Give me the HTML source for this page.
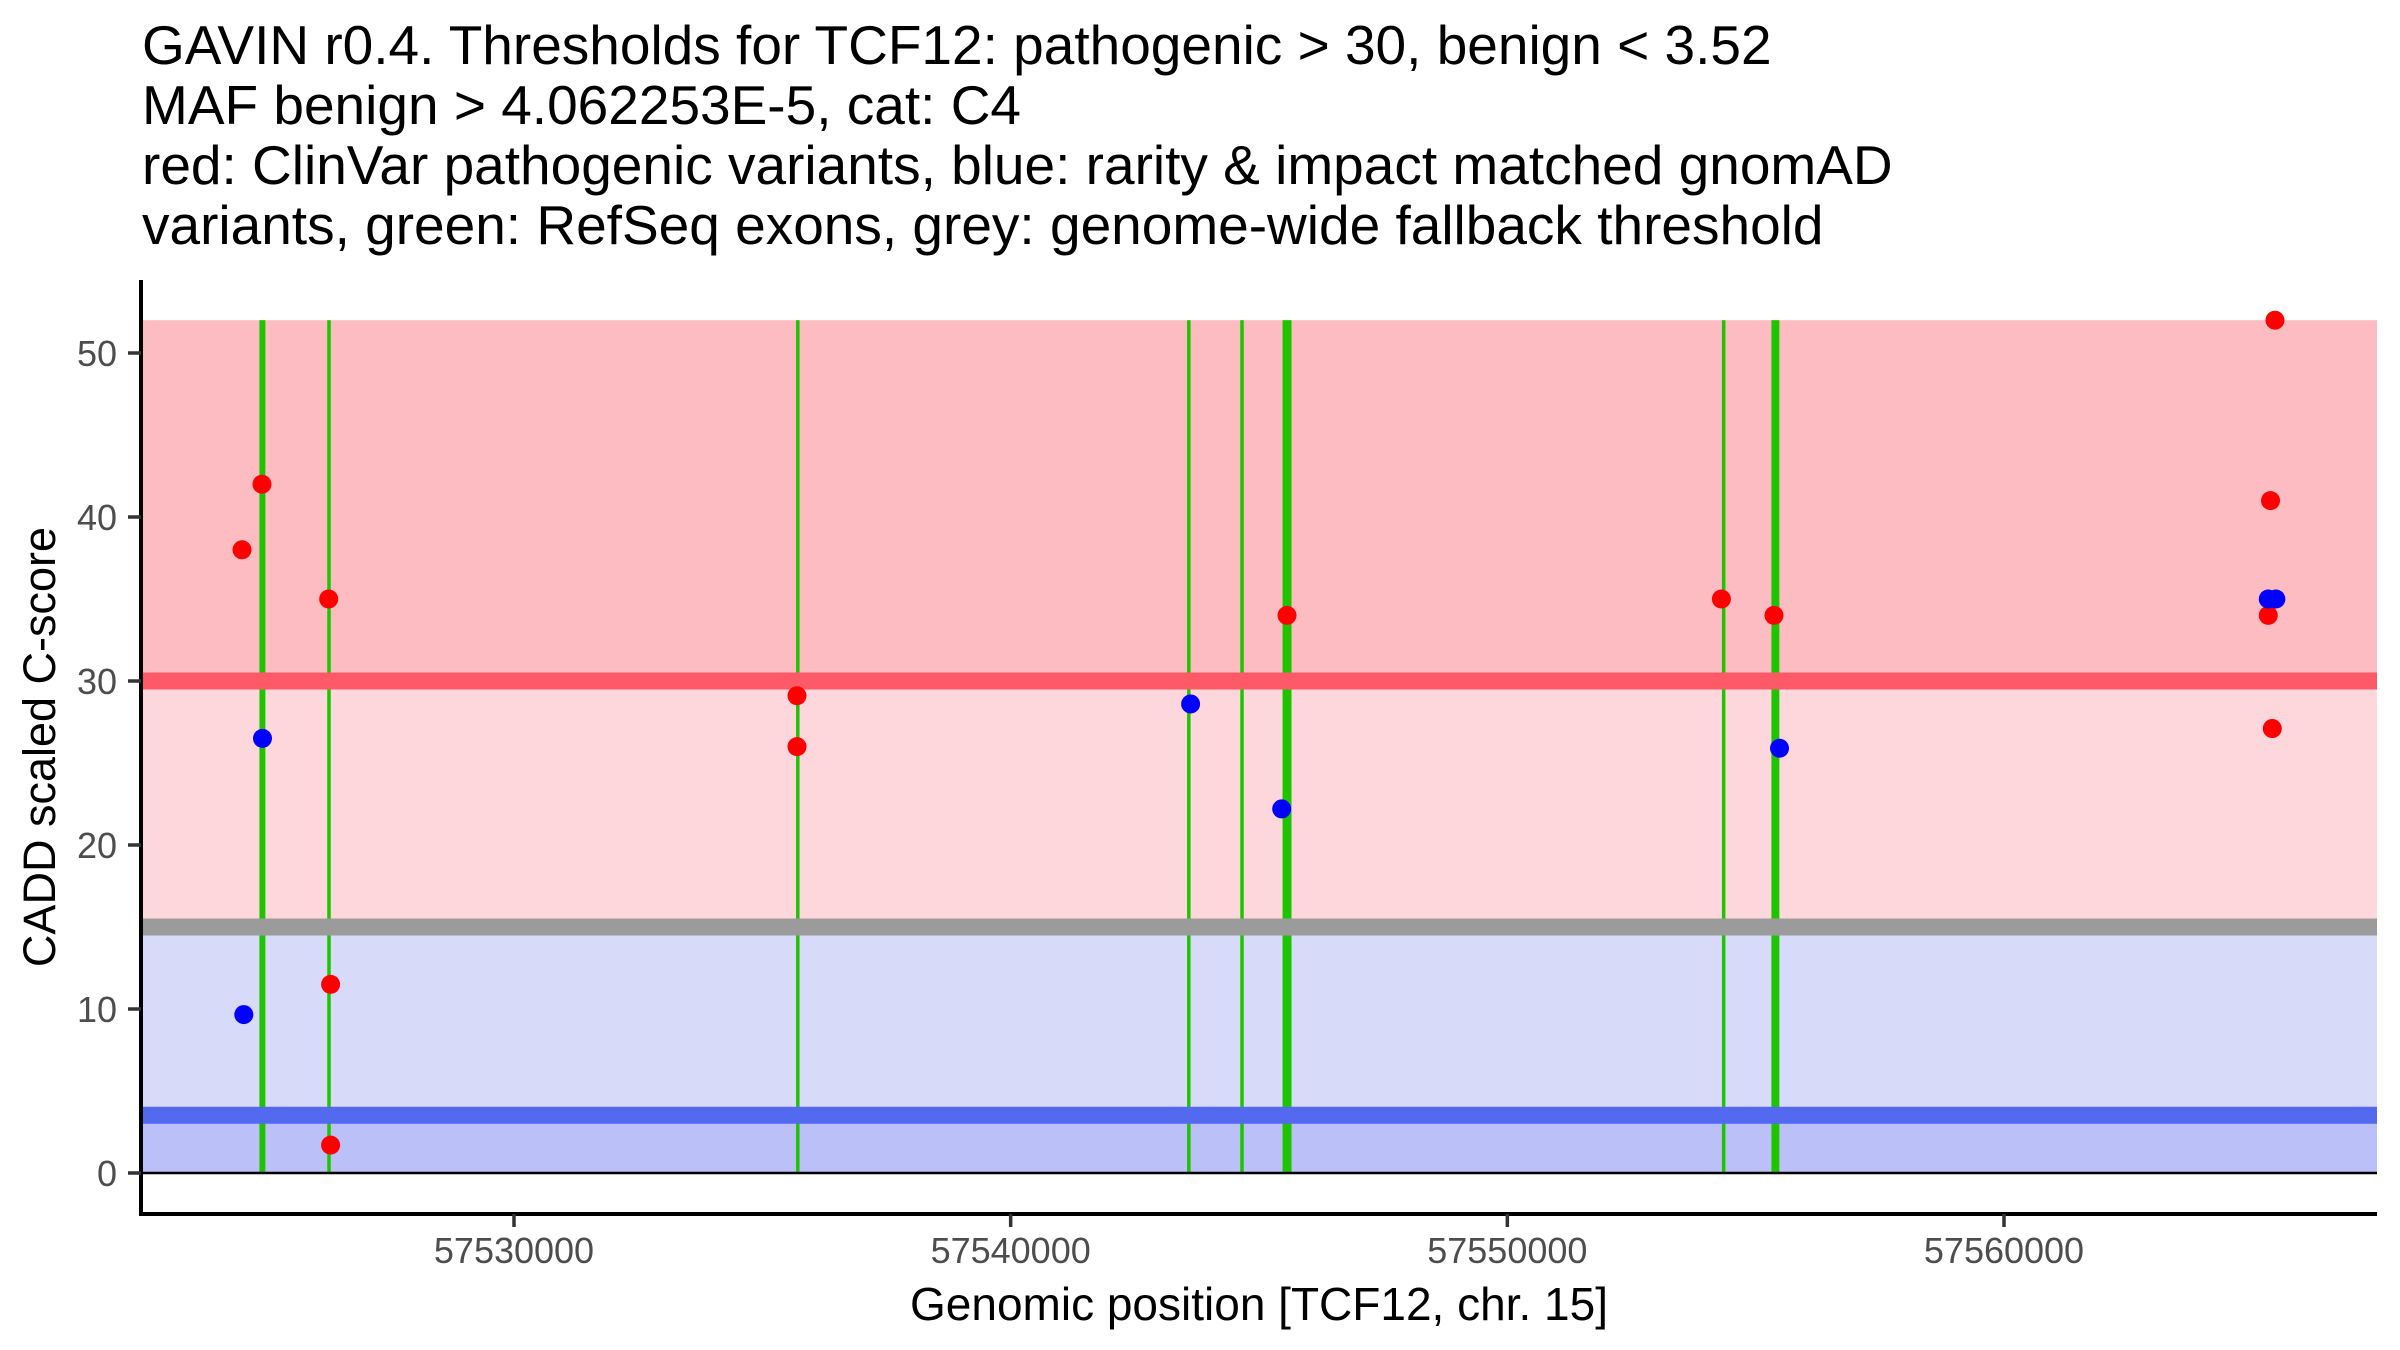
<!DOCTYPE html>
<html><head><meta charset="utf-8"><style>
html,body{margin:0;padding:0;background:#fff;width:2400px;height:1350px;overflow:hidden}
svg{display:block}
text{font-family:"Liberation Sans",Arial,sans-serif}
</style></head><body>
<svg id="chart" width="2400" height="1350" viewBox="0 0 2400 1350" xmlns="http://www.w3.org/2000/svg">
<g font-size="55" fill="#000">
<text x="142" y="64">GAVIN r0.4. Thresholds for TCF12: pathogenic &gt; 30, benign &lt; 3.52</text>
<text x="142" y="124">MAF benign &gt; 4.062253E-5, cat: C4</text>
<text x="142" y="184">red: ClinVar pathogenic variants, blue: rarity &amp; impact matched gnomAD</text>
<text x="142" y="244">variants, green: RefSeq exons, grey: genome-wide fallback threshold</text>
</g>
<g id="bands"></g>
<g id="exons"></g>
<g id="thr"></g>
<g id="pts"></g>
<g id="axes"></g>
<text x="1259" y="1320" text-anchor="middle" font-size="46">Genomic position [TCF12, chr. 15]</text>
<text transform="translate(55,747) rotate(-90)" text-anchor="middle" font-size="45">CADD scaled C-score</text>
</svg>
<script>
const pathogenicThreshold = 30;
const benignThreshold = 3.52;
const fallbackThreshold = 15;
const yMaxBand = 52;
const yTicks = [0, 10, 20, 30, 40, 50];
const xTicks = [57530000, 57540000, 57550000, 57560000];
const exonStarts = [57524874, 57526275, 57535714, 57543587, 57544658, 57545474, 57554356, 57555317];
const exonEnds   = [57524994, 57526275, 57535714, 57543587, 57544658, 57545655, 57554356, 57555477];
const redPos   = [57524926, 57524524, 57526269, 57526307, 57526307, 57535698, 57535698, 57545564, 57554310, 57555369, 57565456, 57565366, 57565321, 57565402];
const redScore = [42.0, 38.0, 35.0, 11.5, 1.7, 29.1, 26.0, 34.0, 35.0, 34.0, 52.0, 41.0, 34.0, 27.1];
const bluePos   = [57524936, 57524560, 57543623, 57545457, 57555480, 57565321, 57565474];
const blueScore = [26.5, 9.66, 28.6, 22.2, 25.9, 35.0, 35.0];

const NS = "http://www.w3.org/2000/svg";
const X0 = 141, X1 = 2377;
function xs(p){ return 514 + (p - 57530000) * (2004 - 514) / 30000; }
function ys(v){ return 1173 - v * 16.4; }
function mk(parent, tag, attrs){
  const e = document.createElementNS(NS, tag);
  for (const k in attrs) e.setAttribute(k, attrs[k]);
  parent.appendChild(e); return e;
}
const bands = document.getElementById('bands');
let r;
r = mk(bands,'rect',{x:X0,y:ys(yMaxBand),width:X1-X0,height:ys(pathogenicThreshold)-ys(yMaxBand),fill:'#fdbcc1'});


r = mk(bands,'rect',{x:X0,y:ys(pathogenicThreshold),width:X1-X0,height:ys(fallbackThreshold)-ys(pathogenicThreshold),fill:'#fdd7dc'});


r = mk(bands,'rect',{x:X0,y:ys(fallbackThreshold),width:X1-X0,height:ys(benignThreshold)-ys(fallbackThreshold),fill:'#d7daf9'});


r = mk(bands,'rect',{x:X0,y:ys(benignThreshold),width:X1-X0,height:ys(0)-ys(benignThreshold),fill:'#bbc1f8'});



const ex = document.getElementById('exons');
for (let i=0;i<exonStarts.length;i++){
  const a = xs(exonStarts[i]), b = xs(exonEnds[i]);
  const w = Math.max(3.5, b - a);
  const c = (a + b) / 2;
  const e = mk(ex,'rect',{x:c - w/2, y:ys(yMaxBand), width:w, height:ys(0)-ys(yMaxBand), fill:'#1fc400'});
  
  
}

const thr = document.getElementById('thr');
let l;
l = mk(thr,'rect',{x:X0,y:ys(pathogenicThreshold)-8.5,width:X1-X0,height:17,fill:'#fd5967'});


l = mk(thr,'rect',{x:X0,y:ys(fallbackThreshold)-8.5,width:X1-X0,height:17,fill:'#9b9b9b'});


l = mk(thr,'rect',{x:X0,y:ys(benignThreshold)-8.5,width:X1-X0,height:17,fill:'#536af0'});


l = mk(thr,'line',{x1:X0,x2:X1,y1:ys(0),y2:ys(0),stroke:'#000','stroke-width':2.5});



const pts = document.getElementById('pts');
for (let i=0;i<redPos.length;i++){
  const c = mk(pts,'circle',{cx:xs(redPos[i]),cy:ys(redScore[i]),r:9.5,fill:'#ff0000'});
  
  
}
for (let i=0;i<bluePos.length;i++){
  const c = mk(pts,'circle',{cx:xs(bluePos[i]),cy:ys(blueScore[i]),r:9.5,fill:'#0000ff'});
  
  
}

const ax = document.getElementById('axes');
let a;
a = mk(ax,'line',{x1:X0,x2:X0,y1:280,y2:1216,stroke:'#000','stroke-width':4});


a = mk(ax,'line',{x1:X0-2,x2:X1,y1:1214,y2:1214,stroke:'#000','stroke-width':4});


for (const v of yTicks){
  const t = mk(ax,'line',{x1:X0-13,x2:X0,y1:ys(v),y2:ys(v),stroke:'#333','stroke-width':3.5});
  
  
  const tx = mk(ax,'text',{x:X0-24,y:ys(v)+13,'text-anchor':'end','font-size':36,fill:'#4d4d4d'});
  tx.textContent = String(v);
  
  
}
for (const v of xTicks){
  const t = mk(ax,'line',{x1:xs(v),x2:xs(v),y1:1214,y2:1227,stroke:'#333','stroke-width':3.5});
  
  
  const tx = mk(ax,'text',{x:xs(v),y:1263,'text-anchor':'middle','font-size':36,fill:'#4d4d4d'});
  tx.textContent = String(v);
  
  
}
</script>
</body></html>
